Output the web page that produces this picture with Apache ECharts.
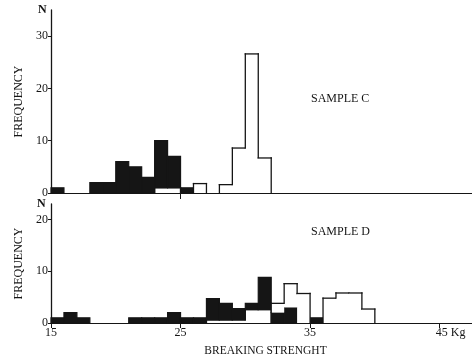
<!DOCTYPE html>
<html>
<head>
<meta charset="utf-8">
<script src="https://cdn.jsdelivr.net/npm/echarts@6/dist/echarts.min.js"></script>
<style>html,body{margin:0;padding:0;background:#fff;}#c{width:472px;height:358px;}</style>
</head>
<body>
<div id="c"></div>
<script>
// ---- Sample C (top panel), bins of 1 kg starting at these values ----
const binsC      = [15,16,17,18,19,20,21,22,23,24,25,26,27,28,29,30,31];
const cWhiteLow  = [0,0,0,0,0,0,0,0,1,1,0,0,0,0,0,0,0];
const cBlack     = [1,0,0,2,2,6,5,3,9,6,1,0,0,0,0,0,0];
const cWhiteHigh = [0,0,0,0,0,0,0,0,0,0,0,1.8,0,1.6,8.6,26.6,6.7];

// ---- Sample D (bottom panel) ----
const binsD      = [15,16,17,18,19,20,21,22,23,24,25,26,27,28,29,30,31,32,33,34,35,36,37,38,39];
const dWhiteLow  = [0,0,0,0,0,0,0,0,0,0,0,0,0.6,0.6,0.6,2.6,2.6,0,0,0,0,0,0,0,0];
const dBlack     = [1,2,1,0,0,0,1,1,1,2,1,1,4.1,3.2,2.2,1.2,6.2,2,3,0,1,0,0,0,0];
const dWhiteHigh = [0,0,0,0,0,0,0,0,0,0,0,0,0,0,0,0,0,1.8,4.6,5.7,0,4.8,5.8,5.8,2.7];

const xTickValues = [15,25,35,45];
const yTicksC = 10, yTicksD = 10;

const FONT = 'Liberation Serif';
const INK = '#151515';

function layers(bins, low, black, high) {
  const n = bins.length;
  const baseLow = bins.map(() => 0);
  const baseBlack = low.slice();
  const baseHigh = low.map((v,i) => v + black[i]);
  function build(vals, bases, isWhite) {
    const items = [];
    for (let i = 0; i < n; i++) {
      const v = vals[i];
      if (!(v > 0)) continue;
      const b = bases[i], t = b + v;
      let lf = b, rf = b;
      if (isWhite) {
        if (i > 0 && vals[i-1] > 0) {
          const tn = bases[i-1] + vals[i-1];
          lf = tn < t ? Math.max(b, tn) : -1;
        }
        if (i < n-1 && vals[i+1] > 0) {
          const tn = bases[i+1] + vals[i+1];
          rf = tn < t ? Math.max(b, tn) : -1;
        }
      }
      items.push([bins[i], bins[i] + 1, b, t, lf, rf]);
    }
    return items;
  }
  return {low: build(low, baseLow, true), black: build(black, baseBlack, false), high: build(high, baseHigh, true)};
}

function renderWhite(params, api) {
  const x0 = api.value(0), x1 = api.value(1), b = api.value(2), t = api.value(3);
  const lf = api.value(4), rf = api.value(5);
  const p0 = api.coord([x0, t]), p1 = api.coord([x1, b]);
  const ls = {stroke: INK, lineWidth: 1.3, lineCap: 'square'};
  const ch = [
    {type:'rect', shape:{x:p0[0], y:p0[1], width:p1[0]-p0[0], height:p1[1]-p0[1]}, style:{fill:'#fff'}},
    {type:'line', shape:{x1:p0[0], y1:p0[1], x2:p1[0], y2:p0[1]}, style:ls}
  ];
  if (lf >= 0) {
    const a = api.coord([x0, lf]);
    ch.push({type:'line', shape:{x1:p0[0], y1:a[1], x2:p0[0], y2:p0[1]}, style:ls});
  }
  if (rf >= 0) {
    const a = api.coord([x1, rf]);
    ch.push({type:'line', shape:{x1:p1[0], y1:a[1], x2:p1[0], y2:p0[1]}, style:ls});
  }
  return {type:'group', children: ch};
}

function renderBlack(params, api) {
  const p0 = api.coord([api.value(0), api.value(3)]);
  const p1 = api.coord([api.value(1), api.value(2)]);
  return {type:'rect', shape:{x:p0[0], y:p0[1], width:p1[0]-p0[0], height:p1[1]-p0[1]},
          style:{fill: INK, stroke: INK, lineWidth: 1.2}};
}

function seriesFor(L, idx) {
  const enc = {x:[0,1], y:[2,3]};
  return [
    {type:'custom', xAxisIndex:idx, yAxisIndex:idx, renderItem:renderWhite, data:L.low, encode:enc, silent:true},
    {type:'custom', xAxisIndex:idx, yAxisIndex:idx, renderItem:renderBlack, data:L.black, encode:enc, silent:true},
    {type:'custom', xAxisIndex:idx, yAxisIndex:idx, renderItem:renderWhite, data:L.high, encode:enc, silent:true}
  ];
}

const LC = layers(binsC, cWhiteLow, cBlack, cWhiteHigh);
const LD = layers(binsD, dWhiteLow, dBlack, dWhiteHigh);

const txt = {fontFamily: FONT, color: INK, fontSize: 11};

function yAxis(idx, max, interval) {
  return {
    type:'value', gridIndex: idx, min:0, max:max, interval:interval,
    splitLine:{show:false},
    axisLine:{show:true, lineStyle:{color:INK, width:1.3}},
    axisTick:{show:true, length:3, lineStyle:{color:INK, width:1}},
    axisLabel:{...txt, fontSize:12, margin:3, showMaxLabel:false},
    name:'FREQUENCY', nameLocation:'middle', nameRotate:90, nameGap:26,
    nameTextStyle:{...txt, fontSize:12}
  };
}

const chart = echarts.init(document.getElementById('c'), null, {renderer:'canvas'});
chart.setOption({
  animation:false,
  backgroundColor:'#fff',
  grid:[
    {left:51, right:0, top:10, height:183},
    {left:51, right:0, top:204, height:119.6}
  ],
  xAxis:[
    {type:'value', gridIndex:0, min:15, max:47.5, interval:5,
     splitLine:{show:false},
     axisLine:{show:true, onZero:false, lineStyle:{color:INK, width:1.2}},
     axisTick:{show:true, customValues:[25], length:6, lineStyle:{color:INK, width:1}},
     axisLabel:{show:false}},
    {type:'value', gridIndex:1, min:15, max:47.5, interval:5,
     splitLine:{show:false},
     axisLine:{show:true, onZero:false, lineStyle:{color:INK, width:1.2}},
     axisTick:{show:true, customValues:xTickValues, length:5, lineStyle:{color:INK, width:1}},
     axisLabel:{...txt, fontSize:12, margin:4, customValues:xTickValues,
       formatter: v => v === 45 ? '{k|45 Kg}' : String(v),
       rich:{k:{fontFamily:FONT, color:INK, fontSize:12, padding:[0,0,0,22]}}},
     name:'BREAKING STRENGHT', nameLocation:'middle', nameGap:22,
     nameTextStyle:{...txt, fontSize:11.5, padding:[0,0,0,8]}}
  ],
  yAxis:[ yAxis(0, 35, yTicksC), yAxis(1, 23, yTicksD) ],
  graphic:[
    {type:'text', left:38, top:4, style:{text:'N', font:'bold 12px "Liberation Serif"', fill:INK}},
    {type:'text', left:37, top:198, style:{text:'N', font:'bold 12px "Liberation Serif"', fill:INK}},
    {type:'text', left:311, top:93, style:{text:'SAMPLE C', font:'12px "Liberation Serif"', fill:INK}},
    {type:'text', left:311, top:226, style:{text:'SAMPLE D', font:'12px "Liberation Serif"', fill:INK}}
  ],
  series:[...seriesFor(LC,0), ...seriesFor(LD,1)]
});
</script>
</body>
</html>
